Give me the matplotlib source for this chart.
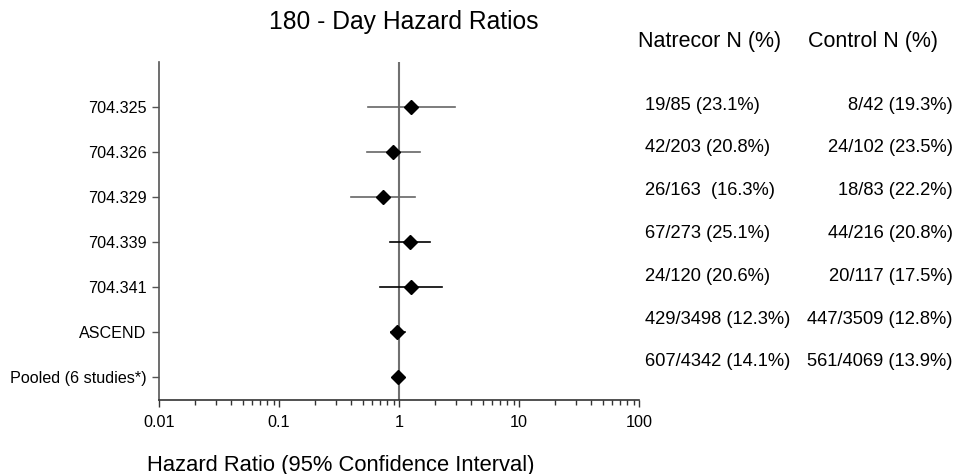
import matplotlib.pyplot as plt
import matplotlib.ticker as mticker
import numpy as np

plt.rcParams['font.family'] = ['Liberation Sans', 'DejaVu Sans']

# Data
studies = ['704.325', '704.326', '704.329', '704.339', '704.341', 'ASCEND', 'Pooled (6 studies*)']
hr = [1.27, 0.89, 0.73, 1.24, 1.26, 0.97, 0.99]
ci_low = [0.55, 0.54, 0.40, 0.84, 0.69, 0.85, 0.93]
ci_high = [2.92, 1.49, 1.35, 1.83, 2.29, 1.12, 1.06]
natrecor = ['19/85 (23.1%)', '42/203 (20.8%)', '26/163  (16.3%)', '67/273 (25.1%)',
            '24/120 (20.6%)', '429/3498 (12.3%)', '607/4342 (14.1%)']
control = ['8/42 (19.3%)', '24/102 (23.5%)', '18/83 (22.2%)', '44/216 (20.8%)',
           '20/117 (17.5%)', '447/3509 (12.8%)', '561/4069 (13.9%)']
xticks = [0.01, 0.1, 1, 10, 100]

W, H = 962, 474
fig = plt.figure(figsize=(W / 100, H / 100), dpi=100)
ax = fig.add_axes([159 / W, 1 - 400 / H, 480 / W, 338 / H])

ypos = np.arange(1, len(studies) + 1)
bar_colors = ['#666666', '#666666', '#666666', 'black', 'black', 'black', 'black']

# reference line at HR = 1
ax.axvline(1, color='#707070', lw=1.5, zorder=1)

for y, h, lo, hi, c in zip(ypos, hr, ci_low, ci_high, bar_colors):
    ax.plot([lo, hi], [y, y], color=c, lw=1.2, zorder=2)
    ax.plot(h, y, marker='D', color='black', markersize=7.5, zorder=3)

ax.set_xscale('log')
ax.set_xlim(0.01, 100)
ax.set_ylim(7.5, 0.0)
ax.set_xticks(xticks)
ax.xaxis.set_major_formatter(mticker.FuncFormatter(lambda v, p: f'{v:g}'))
ax.xaxis.set_minor_locator(mticker.LogLocator(base=10, subs=np.arange(2, 10)))
ax.xaxis.set_minor_formatter(mticker.NullFormatter())
ax.set_yticks(ypos)
ax.set_yticklabels(studies)

for s in ['top', 'right']:
    ax.spines[s].set_visible(False)
ax.spines['left'].set_color('#555555')
ax.spines['bottom'].set_color('#333333')
ax.spines['left'].set_linewidth(1.2)
ax.spines['bottom'].set_linewidth(1.2)

ax.tick_params(axis='x', which='major', length=5, width=1, color='#333333',
               labelsize=11.7, pad=6)
ax.tick_params(axis='x', which='minor', length=3.5, width=1, color='#333333')
ax.tick_params(axis='y', length=5, width=1, color='#555555', labelsize=11.6, pad=4)

fig.text(341 / W, 1 - 465 / H, 'Hazard Ratio (95% Confidence Interval)', fontsize=15.8,
         ha='center', va='center')

fig.text(404 / W, 1 - 22 / H, '180 - Day Hazard Ratios', fontsize=17.7,
         ha='center', va='center')

# table of event counts
fig.text(638 / W, 1 - 42 / H, 'Natrecor N (%)', fontsize=15.5, ha='left', va='center')
fig.text(808 / W, 1 - 42 / H, 'Control N (%)', fontsize=15.5, ha='left', va='center')
for i, (n, c) in enumerate(zip(natrecor, control)):
    ty = 105 + i * 42.8
    fig.text(645 / W, 1 - ty / H, n, fontsize=13.2, ha='left', va='center')
    fig.text(953 / W, 1 - ty / H, c, fontsize=13.2, ha='right', va='center')

fig.savefig('out.png', dpi=100)
